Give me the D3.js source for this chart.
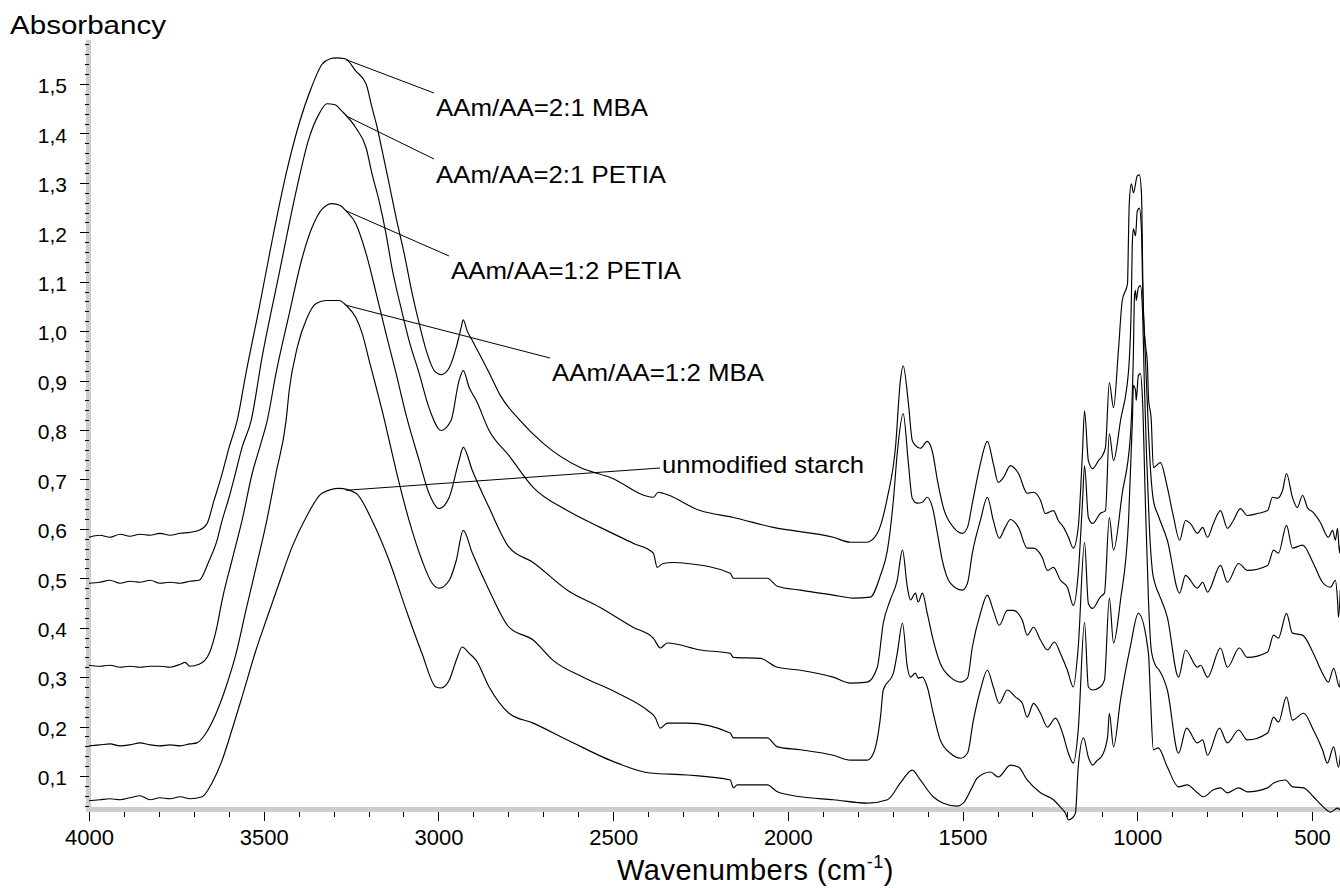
<!DOCTYPE html>
<html><head><meta charset="utf-8">
<script src="https://cdn.jsdelivr.net/npm/d3@7"></script>
<style>
html,body{margin:0;padding:0;background:#fff;}
svg{display:block;font-family:"Liberation Sans",Arial,sans-serif;}
</style>
</head><body>
<svg id="chart" width="1340" height="888"></svg>
<script>
// ---------------- data ----------------
const seriesNames = ["AAm/AA=2:1 MBA","AAm/AA=2:1 PETIA","AAm/AA=1:2 PETIA","AAm/AA=1:2 MBA","unmodified starch"];
const xTickValues = [4000,3500,3000,2500,2000,1500,1000,500];
const yTickValues = [0.1,0.2,0.3,0.4,0.5,0.6,0.7,0.8,0.9,1.0,1.1,1.2,1.3,1.4,1.5];

// [wavenumber cm-1, absorbance]
const mba21 = [[4000,0.583],[3969,0.587],[3940,0.583],[3911,0.589],[3883,0.585],[3854,0.589],[3825,0.587],[3797,0.591],[3768,0.587],[3739,0.591],[3711,0.593],[3685,0.597],[3662,0.611],[3642,0.658],[3622,0.704],[3599,0.765],[3576,0.819],[3551,0.914],[3513,1.047],[3476,1.183],[3436,1.318],[3399,1.419],[3364,1.492],[3333,1.540],[3310,1.551],[3293,1.553],[3267,1.551],[3236,1.526],[3207,1.500],[3190,1.452],[3175,1.411],[3161,1.365],[3141,1.298],[3121,1.229],[3098,1.157],[3075,1.076],[3055,1.015],[3035,0.961],[3012,0.920],[2992,0.912],[2969,0.926],[2949,0.967],[2935,1.007],[2929,1.023],[2918,1.001],[2903,0.981],[2855,0.916],[2823,0.870],[2766,0.819],[2700,0.773],[2594,0.724],[2508,0.704],[2385,0.664],[2371,0.674],[2357,0.672],[2251,0.637],[2156,0.623],[2042,0.603],[1870,0.583],[1821,0.573],[1773,0.573],[1744,0.591],[1715,0.664],[1692,0.765],[1678,0.900],[1670,0.930],[1655,0.854],[1644,0.779],[1635,0.769],[1621,0.763],[1601,0.777],[1586,0.755],[1572,0.698],[1555,0.643],[1526,0.603],[1501,0.591],[1486,0.603],[1472,0.652],[1449,0.732],[1429,0.777],[1412,0.732],[1398,0.694],[1383,0.704],[1363,0.728],[1340,0.712],[1315,0.672],[1297,0.674],[1277,0.658],[1263,0.631],[1240,0.637],[1226,0.617],[1211,0.603],[1197,0.583],[1183,0.561],[1169,0.603],[1157,0.753],[1151,0.839],[1140,0.738],[1128,0.722],[1111,0.738],[1100,0.748],[1091,0.765],[1080,0.896],[1068,0.845],[1054,0.961],[1043,1.062],[1028,1.096],[1025,1.197],[1023,1.258],[1017,1.298],[1011,1.280],[1000,1.314],[994,1.316],[988,1.278],[985,1.148],[983,1.047],[977,0.975],[971,0.934],[968,0.866],[960,0.819],[954,0.724],[934,0.734],[914,0.684],[896,0.623],[879,0.577],[862,0.617],[848,0.611],[828,0.591],[813,0.603],[799,0.583],[782,0.611],[762,0.637],[742,0.601],[725,0.617],[705,0.641],[685,0.627],[656,0.631],[627,0.637],[613,0.664],[599,0.662],[584,0.678],[573,0.712],[556,0.664],[542,0.643],[527,0.668],[513,0.643],[496,0.633],[476,0.613],[453,0.583],[441,0.597],[433,0.577],[427,0.601],[421,0.551],[419,0.567]];

const petia21 = [[4000,0.490],[3969,0.492],[3940,0.496],[3911,0.490],[3883,0.494],[3854,0.492],[3825,0.496],[3797,0.490],[3768,0.492],[3739,0.490],[3711,0.494],[3685,0.496],[3656,0.536],[3636,0.571],[3619,0.617],[3599,0.664],[3579,0.718],[3562,0.765],[3536,0.819],[3505,0.946],[3456,1.116],[3407,1.284],[3370,1.391],[3342,1.439],[3319,1.460],[3296,1.458],[3276,1.445],[3236,1.411],[3207,1.371],[3190,1.318],[3170,1.264],[3150,1.197],[3133,1.128],[3107,1.047],[3084,0.981],[3055,0.914],[3027,0.845],[2992,0.799],[2964,0.819],[2941,0.900],[2929,0.920],[2912,0.886],[2892,0.860],[2855,0.799],[2798,0.748],[2729,0.684],[2631,0.637],[2537,0.603],[2443,0.571],[2385,0.551],[2374,0.522],[2357,0.530],[2328,0.532],[2288,0.530],[2165,0.510],[2156,0.500],[2059,0.500],[2030,0.484],[1964,0.476],[1870,0.466],[1813,0.460],[1764,0.462],[1735,0.506],[1715,0.557],[1698,0.658],[1687,0.753],[1670,0.833],[1655,0.732],[1644,0.662],[1630,0.652],[1615,0.654],[1601,0.664],[1586,0.643],[1572,0.591],[1558,0.536],[1535,0.490],[1501,0.476],[1486,0.490],[1472,0.551],[1449,0.617],[1429,0.664],[1412,0.617],[1395,0.581],[1378,0.603],[1363,0.619],[1340,0.603],[1315,0.561],[1297,0.561],[1272,0.542],[1257,0.516],[1240,0.522],[1220,0.496],[1200,0.482],[1183,0.445],[1169,0.510],[1157,0.652],[1151,0.728],[1140,0.623],[1128,0.611],[1106,0.631],[1091,0.637],[1080,0.793],[1068,0.738],[1048,0.819],[1025,0.920],[1017,1.062],[1014,1.183],[1011,1.207],[1005,1.193],[1000,1.243],[994,1.249],[988,1.203],[985,1.102],[980,1.001],[974,0.900],[968,0.799],[962,0.718],[954,0.658],[940,0.627],[914,0.577],[879,0.470],[862,0.506],[828,0.480],[813,0.492],[799,0.472],[762,0.526],[742,0.492],[710,0.530],[685,0.516],[627,0.526],[610,0.557],[596,0.551],[573,0.607],[556,0.561],[527,0.567],[496,0.530],[470,0.492],[447,0.482],[433,0.496],[427,0.456],[424,0.421],[419,0.476]];

const petia12 = [[4000,0.324],[3969,0.322],[3940,0.324],[3911,0.320],[3883,0.322],[3854,0.320],[3825,0.322],[3797,0.322],[3768,0.320],[3739,0.326],[3725,0.330],[3711,0.322],[3685,0.326],[3656,0.348],[3636,0.395],[3619,0.456],[3591,0.536],[3562,0.617],[3533,0.712],[3508,0.773],[3490,0.819],[3465,0.914],[3427,1.035],[3390,1.148],[3362,1.209],[3333,1.247],[3304,1.258],[3281,1.254],[3264,1.243],[3236,1.217],[3207,1.157],[3178,1.076],[3150,0.995],[3121,0.914],[3092,0.829],[3055,0.738],[3027,0.672],[2998,0.641],[2969,0.664],[2941,0.738],[2929,0.765],[2903,0.718],[2855,0.643],[2798,0.563],[2729,0.532],[2631,0.476],[2537,0.441],[2443,0.401],[2385,0.379],[2365,0.359],[2345,0.369],[2251,0.355],[2165,0.348],[2156,0.340],[2079,0.338],[2030,0.320],[1964,0.314],[1870,0.300],[1821,0.288],[1773,0.290],[1744,0.320],[1727,0.409],[1707,0.456],[1687,0.496],[1672,0.557],[1658,0.482],[1649,0.456],[1635,0.470],[1627,0.452],[1615,0.470],[1601,0.429],[1584,0.375],[1564,0.328],[1535,0.300],[1506,0.290],[1486,0.298],[1472,0.361],[1449,0.429],[1429,0.466],[1412,0.435],[1395,0.405],[1372,0.435],[1355,0.435],[1329,0.415],[1315,0.385],[1297,0.401],[1277,0.375],[1257,0.355],[1237,0.371],[1220,0.348],[1200,0.314],[1183,0.280],[1169,0.361],[1151,0.573],[1140,0.449],[1128,0.439],[1106,0.462],[1094,0.470],[1080,0.623],[1068,0.557],[1043,0.672],[1020,0.785],[1011,0.961],[1008,1.072],[1005,1.082],[1003,1.062],[997,1.088],[991,1.092],[985,1.041],[980,0.900],[974,0.759],[965,0.597],[957,0.516],[948,0.486],[937,0.466],[914,0.421],[882,0.300],[862,0.355],[828,0.320],[819,0.324],[799,0.300],[762,0.359],[742,0.320],[708,0.359],[685,0.340],[627,0.351],[610,0.385],[596,0.379],[573,0.429],[556,0.389],[527,0.385],[496,0.348],[470,0.308],[453,0.290],[438,0.318],[421,0.280],[419,0.294]];

const mba12 = [[4000,0.161],[3969,0.163],[3940,0.165],[3911,0.161],[3883,0.163],[3854,0.167],[3825,0.163],[3797,0.161],[3768,0.163],[3739,0.161],[3711,0.165],[3691,0.167],[3665,0.187],[3636,0.227],[3608,0.280],[3579,0.348],[3551,0.435],[3522,0.522],[3493,0.611],[3465,0.712],[3436,0.819],[3427,0.880],[3404,0.967],[3376,1.027],[3350,1.056],[3321,1.062],[3284,1.062],[3264,1.052],[3236,1.027],[3218,0.995],[3198,0.940],[3178,0.886],[3161,0.839],[3141,0.779],[3121,0.718],[3084,0.617],[3047,0.536],[3018,0.490],[2998,0.480],[2969,0.496],[2949,0.536],[2929,0.597],[2903,0.551],[2855,0.476],[2798,0.401],[2729,0.375],[2672,0.334],[2586,0.300],[2488,0.268],[2402,0.233],[2380,0.219],[2365,0.197],[2345,0.207],[2288,0.207],[2165,0.187],[2156,0.177],[2059,0.177],[2030,0.159],[1964,0.153],[1870,0.142],[1821,0.132],[1773,0.132],[1755,0.146],[1735,0.219],[1727,0.274],[1698,0.308],[1687,0.348],[1672,0.409],[1658,0.320],[1649,0.300],[1635,0.308],[1627,0.298],[1615,0.300],[1601,0.280],[1584,0.227],[1564,0.173],[1535,0.146],[1506,0.136],[1486,0.146],[1469,0.213],[1449,0.274],[1429,0.314],[1412,0.280],[1395,0.247],[1372,0.274],[1349,0.260],[1329,0.247],[1315,0.219],[1297,0.247],[1277,0.227],[1257,0.199],[1234,0.217],[1214,0.187],[1197,0.146],[1183,0.126],[1169,0.193],[1151,0.411],[1140,0.280],[1128,0.274],[1106,0.280],[1094,0.294],[1080,0.460],[1068,0.369],[1048,0.456],[1025,0.617],[1014,0.819],[1011,0.890],[1005,0.880],[1003,0.860],[997,0.910],[991,0.914],[985,0.860],[977,0.658],[968,0.456],[960,0.355],[948,0.324],[937,0.314],[914,0.274],[882,0.146],[859,0.197],[828,0.167],[813,0.173],[799,0.142],[765,0.197],[742,0.167],[710,0.193],[685,0.173],[627,0.187],[610,0.219],[596,0.209],[573,0.260],[556,0.213],[524,0.227],[496,0.193],[470,0.153],[456,0.126],[438,0.159],[424,0.118],[419,0.142]];

const starch = [[4000,0.050],[3969,0.052],[3940,0.054],[3911,0.052],[3883,0.056],[3854,0.060],[3825,0.052],[3797,0.056],[3768,0.054],[3739,0.058],[3711,0.054],[3676,0.058],[3648,0.086],[3619,0.132],[3591,0.193],[3562,0.260],[3522,0.355],[3493,0.415],[3456,0.490],[3419,0.563],[3379,0.623],[3333,0.672],[3284,0.682],[3236,0.672],[3190,0.617],[3141,0.536],[3092,0.435],[3047,0.348],[3007,0.280],[2992,0.278],[2969,0.294],[2949,0.334],[2932,0.361],[2912,0.348],[2892,0.334],[2855,0.280],[2798,0.227],[2729,0.207],[2631,0.173],[2488,0.126],[2394,0.106],[2288,0.102],[2165,0.092],[2156,0.076],[2145,0.082],[2059,0.082],[2030,0.068],[1964,0.058],[1870,0.052],[1773,0.045],[1715,0.052],[1678,0.086],[1644,0.112],[1621,0.092],[1584,0.058],[1555,0.045],[1515,0.039],[1498,0.045],[1472,0.078],[1458,0.096],[1420,0.108],[1398,0.098],[1363,0.122],[1340,0.118],[1315,0.092],[1277,0.066],[1240,0.052],[1220,0.037],[1206,0.025],[1197,0.011],[1186,0.015],[1177,0.025],[1169,0.118],[1154,0.177],[1140,0.138],[1128,0.122],[1114,0.132],[1100,0.142],[1085,0.179],[1080,0.227],[1068,0.159],[1048,0.254],[1020,0.361],[997,0.429],[968,0.348],[962,0.254],[954,0.153],[940,0.157],[914,0.118],[882,0.078],[857,0.082],[828,0.066],[811,0.058],[782,0.072],[762,0.076],[742,0.066],[710,0.076],[685,0.068],[627,0.076],[610,0.086],[576,0.092],[556,0.078],[524,0.076],[496,0.058],[467,0.037],[447,0.027],[427,0.035],[419,0.031]];

const seriesData = [mba21, petia21, petia12, mba12, starch];

// ---------------- layout ----------------
const W = 1340, H = 888;
const svg = d3.select("#chart");
const font = '"Liberation Sans", Arial, sans-serif';

const x = d3.scaleLinear().domain([4000, 500]).range([89, 1312]);
const y = d3.scaleLinear().domain([0.1, 1.5]).range([776, 84]);

const axisGray = "#cdcdcd";
const axisX0 = 89, axisY0 = 812;

// axis bands
svg.append("rect").attr("x", 86).attr("y", 40).attr("width", 5).attr("height", axisY0 - 40).attr("fill", axisGray);
svg.append("rect").attr("x", 86).attr("y", axisY0 - 5).attr("width", W - 86).attr("height", 5).attr("fill", axisGray);

// y axis
const yMinor = d3.range(2, 80).map(i => +(i * 0.02).toFixed(2));
const gyMinor = svg.append("g").attr("transform", `translate(${axisX0},0)`)
  .call(d3.axisLeft(y).tickValues(yMinor).tickSize(4).tickFormat(""));
gyMinor.select(".domain").remove();

const gy = svg.append("g").attr("transform", `translate(${axisX0},0)`)
  .call(d3.axisLeft(y).tickValues(yTickValues).tickSize(9).tickPadding(13)
    .tickFormat(d => d.toFixed(1).replace(".", ",")));
gy.select(".domain").remove();
gy.selectAll("text").attr("font-family", font).attr("font-size", 21).attr("fill", "#000").attr("dy", "0.42em");

// x axis
const xMinor = d3.range(4000, 400, -100);
const gxMinor = svg.append("g").attr("transform", `translate(0,${axisY0})`)
  .call(d3.axisBottom(x).tickValues(xMinor).tickSize(5).tickFormat(""));
gxMinor.select(".domain").remove();

const gx = svg.append("g").attr("transform", `translate(0,${axisY0})`)
  .call(d3.axisBottom(x).tickValues(xTickValues).tickSize(9).tickPadding(8).tickFormat(d3.format("d")));
gx.select(".domain").remove();
gx.selectAll("text").attr("font-family", font).attr("font-size", 22).attr("fill", "#000");

svg.selectAll(".tick line").attr("stroke", "#000").attr("stroke-width", 1).attr("shape-rendering", "crispEdges");

// axis titles
svg.append("text").attr("x", 10).attr("y", 34)
  .attr("font-family", font).attr("font-size", 25).attr("fill", "#000")
  .attr("textLength", 156).attr("lengthAdjust", "spacingAndGlyphs")
  .text("Absorbancy");

const xt = svg.append("text").attr("x", 617).attr("y", 880)
  .attr("font-family", font).attr("font-size", 29).attr("letter-spacing", 0.5).attr("fill", "#000");
xt.append("tspan").text("Wavenumbers (cm");
xt.append("tspan").attr("font-size", 18).attr("dy", -12).text("-1");
xt.append("tspan").attr("dy", 12).text(")");

// spectra
const line = d3.line().x(d => x(d[0])).y(d => y(d[1])).curve(d3.curveMonotoneX);
svg.append("g").selectAll("path").data(seriesData).join("path")
  .attr("d", line)
  .attr("fill", "none")
  .attr("stroke", "#000")
  .attr("stroke-width", 1.15)
  .attr("stroke-linejoin", "round");

// labels with leader lines
function valueAt(data, wn) {
  for (let i = 0; i < data.length - 1; i++) {
    const a = data[i], b = data[i + 1];
    if ((a[0] - wn) * (b[0] - wn) <= 0) {
      const t = (a[0] === b[0]) ? 0 : (wn - a[0]) / (b[0] - a[0]);
      return a[1] + t * (b[1] - a[1]);
    }
  }
  return data[0][1];
}
const anchorWn = 3265;
const labelLayout = [
  {lineEnd: [434, 93],  text: [436, 116], width: 212},
  {lineEnd: [434, 159], text: [436, 183], width: 230},
  {lineEnd: [449, 256], text: [451, 279], width: 230},
  {lineEnd: [550, 358], text: [552, 381], width: 212},
  {lineEnd: [660, 468], text: [662, 473], width: 202}
];
const ann = svg.append("g");
seriesNames.forEach((name, i) => {
  const L = labelLayout[i];
  const ax = x(anchorWn), ay = y(valueAt(seriesData[i], anchorWn));
  ann.append("line").attr("x1", ax).attr("y1", ay).attr("x2", L.lineEnd[0]).attr("y2", L.lineEnd[1])
    .attr("stroke", "#000").attr("stroke-width", 1);
  ann.append("text").attr("x", L.text[0]).attr("y", L.text[1])
    .attr("font-family", font).attr("font-size", 24).attr("fill", "#000")
    .attr("textLength", L.width).attr("lengthAdjust", "spacingAndGlyphs")
    .text(name);
});
</script>
</body></html>
